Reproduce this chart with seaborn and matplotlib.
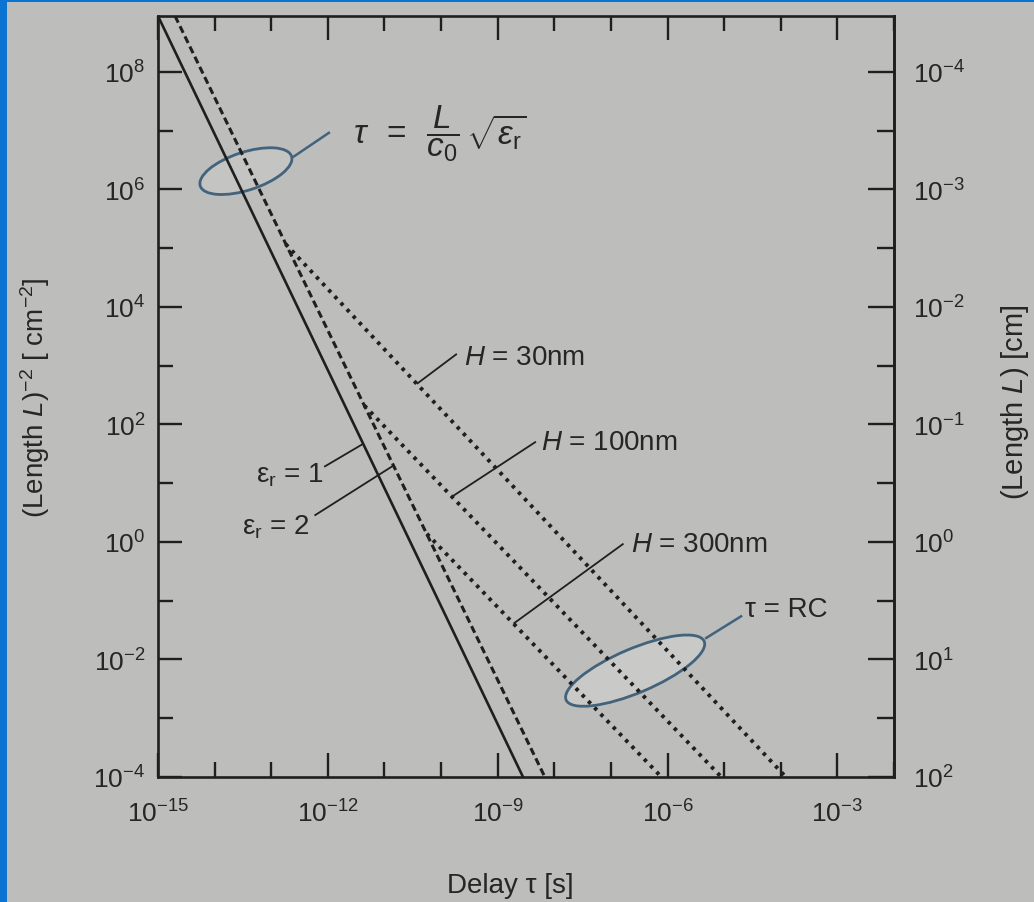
import numpy as np
import pandas as pd
import matplotlib
matplotlib.use("Agg")
import matplotlib.pyplot as plt
import matplotlib.ticker as mticker
import matplotlib.transforms as mtransforms
from matplotlib.patches import Ellipse, Rectangle
from matplotlib.lines import Line2D
import seaborn as sns

# ---------------- data ----------------
tau_er1 = [1.0e-15, 2.8e-9]
Linv_er1 = [8.9e8, 1.0e-4]
tau_er2 = [2.0e-15, 6.8e-9]
Linv_er2 = [8.9e8, 1.0e-4]
tau_h30 = [1.8e-13, 1.23e-4]
Linv_h30 = [1.17e5, 1.0e-4]
tau_h100 = [4.4e-12, 8.9e-6]
Linv_h100 = [2.1e2, 1.0e-4]
tau_h300 = [5.6e-11, 7.8e-7]
Linv_h300 = [1.38, 1.0e-4]

x_major = [1e-15, 1e-12, 1e-9, 1e-6, 1e-3]
x_minor = [10.0 ** k for k in range(-14, -1) if k % 3 != 0]
y_major = [10.0 ** k for k in (-4, -2, 0, 2, 4, 6, 8)]
y_minor = [10.0 ** k for k in (-3, -1, 1, 3, 5, 7)]
L_major = [10.0 ** k for k in (-4, -3, -2, -1, 0, 1, 2)]
L_minor = [10.0 ** (k + 0.5) for k in (-4, -3, -2, -1, 0, 1)]

label_er1 = r"$\mathregular{\varepsilon_r}$ = 1"
label_er2 = r"$\mathregular{\varepsilon_r}$ = 2"
label_h30 = r"$H$ = 30nm"
label_h100 = r"$H$ = 100nm"
label_h300 = r"$H$ = 300nm"
label_rc = "τ = RC"
label_tl = r"$\tau\;\;=\;\;\dfrac{L}{c_0}\,\sqrt{\varepsilon_{\mathrm{r}}}$"

# ---------------- style ----------------
BG = "#bdbdbb"
INK = "#1f1f1f"
TXT = "#262626"
BLUE = "#42637b"
ANN = 20
TICK = 19

sns.set_theme(style="ticks")
plt.rcParams["font.family"] = ["Liberation Sans", "DejaVu Sans"]
plt.rcParams["mathtext.fontset"] = "custom"
plt.rcParams["mathtext.rm"] = "Liberation Sans"
plt.rcParams["mathtext.it"] = "Liberation Sans:italic"
plt.rcParams["mathtext.bf"] = "Liberation Sans:bold"
plt.rcParams["text.color"] = TXT

fig = plt.figure(figsize=(10.34, 9.03), dpi=100, facecolor=BG)
ax = fig.add_axes([158 / 1034, (903 - 778) / 903, (894 - 158) / 1034, (778 - 17) / 903])
ax.set_facecolor(BG)
ax.set_xscale("log")
ax.set_yscale("log")

series = [
    ("er1", tau_er1, Linv_er1, dict(linewidth=1.9, linestyle="-")),
    ("er2", tau_er2, Linv_er2, dict(linewidth=2.2, linestyle=(0, (2.4, 1.3)))),
    ("h30", tau_h30, Linv_h30, dict(linewidth=2.8, linestyle=(0, (0.9, 1.4)))),
    ("h100", tau_h100, Linv_h100, dict(linewidth=2.8, linestyle=(0, (0.9, 1.4)))),
    ("h300", tau_h300, Linv_h300, dict(linewidth=2.8, linestyle=(0, (0.9, 1.4)))),
]
df = pd.concat([pd.DataFrame({"tau": t, "Linv": v, "series": n}) for n, t, v, _ in series],
               ignore_index=True)
for n, _, _, kw in series:
    sns.lineplot(data=df[df["series"] == n], x="tau", y="Linv", ax=ax, color=INK,
                 zorder=2, **kw)

ax.set_xlim(1e-15, 1e-2)
ax.set_ylim(1e-4, 10 ** 8.95)
ax.set_xlabel("")
ax.set_ylabel("")

for s in ax.spines.values():
    s.set_visible(True)
    s.set_linewidth(1.9)
    s.set_color(INK)


def sci(v, pos=None):
    return r"$\mathregular{10^{%d}}$" % int(round(np.log10(v)))


ax.xaxis.set_major_locator(mticker.FixedLocator(x_major))
ax.xaxis.set_minor_locator(mticker.FixedLocator(x_minor))
ax.yaxis.set_major_locator(mticker.FixedLocator(y_major))
ax.yaxis.set_minor_locator(mticker.FixedLocator(y_minor))
ax.xaxis.set_major_formatter(mticker.FuncFormatter(sci))
ax.yaxis.set_major_formatter(mticker.FuncFormatter(sci))
ax.xaxis.set_minor_formatter(mticker.NullFormatter())
ax.yaxis.set_minor_formatter(mticker.NullFormatter())

ax.tick_params(axis="both", which="both", direction="in", top=True, right=False,
               width=1.7, color=INK, labelcolor=TXT, labelsize=TICK)
ax.tick_params(which="major", length=17)
ax.tick_params(which="minor", length=11)
ax.tick_params(axis="x", which="major", pad=16)
ax.tick_params(axis="y", which="major", pad=9)


def fwd(y):
    y = np.asarray(y, dtype=float)
    with np.errstate(divide="ignore", invalid="ignore"):
        return np.power(y, -0.5)


def inv(L):
    L = np.asarray(L, dtype=float)
    with np.errstate(divide="ignore", invalid="ignore"):
        return np.power(L, -2.0)


sec = ax.secondary_yaxis("right", functions=(fwd, inv))
sec.set_yticks(L_major)
sec.yaxis.set_major_formatter(mticker.FuncFormatter(sci))
sec.yaxis.set_minor_locator(mticker.FixedLocator(L_minor))
sec.yaxis.set_minor_formatter(mticker.NullFormatter())
sec.tick_params(which="both", direction="in", width=1.7, color=INK, labelcolor=TXT,
                labelsize=TICK)
sec.tick_params(which="major", length=19, pad=14)
sec.tick_params(which="minor", length=12)
sec.spines["right"].set_linewidth(1.9)
sec.spines["right"].set_color(INK)


# ---------------- annotations ----------------
def on_line(tau, Linv, ylog):
    lx, ly = np.log10(tau), np.log10(Linv)
    xlog = np.interp(ylog, ly[::-1], lx[::-1])
    return 10 ** xlog, 10 ** ylog


def anchored(x, y):
    return fig.dpi_scale_trans + mtransforms.ScaledTranslation(x, y, ax.transData)


def leader(T, p0, p1, color=INK, lw=1.3):
    ln = Line2D([p0[0] / 100, p1[0] / 100], [p0[1] / 100, p1[1] / 100], transform=T,
                color=color, lw=lw, zorder=3, solid_capstyle="butt")
    ax.add_artist(ln)


def label(T, p, s, ha="left", size=ANN):
    ax.text(p[0] / 100, p[1] / 100, s, transform=T, ha=ha, va="center",
            fontsize=size, color=TXT, zorder=4)


# top-left ellipse (tau = L/c0 sqrt(er))
xa, ya = on_line(tau_er1, Linv_er1, 6.31)
xb, _ = on_line(tau_er2, Linv_er2, 6.31)
T = anchored(10 ** (np.log10(xa) + 0.75 * (np.log10(xb) - np.log10(xa))), ya)
ax.add_artist(Ellipse((0, 0), 0.96, 0.38, angle=18, transform=T, facecolor="#c4c4c2",
                      edgecolor=BLUE, lw=2.0, zorder=1.5))
leader(T, (47, 14), (84, 39), color=BLUE, lw=1.8)
label(T, (107, 39), label_tl, size=24)

# RC ellipse
xa, ya = on_line(tau_h100, Linv_h100, -2.19)
xb, _ = on_line(tau_h30, Linv_h30, -2.19)
T = anchored(10 ** (np.log10(xa) + 0.24 * (np.log10(xb) - np.log10(xa))), ya)
ax.add_artist(Ellipse((0, 0), 1.50, 0.44, angle=23, transform=T, facecolor="#c9c9c7",
                      edgecolor=BLUE, lw=2.0, zorder=1.5))
leader(T, (70, 32), (107, 55), color=BLUE, lw=1.8)
label(T, (110, 62), label_rc)

# er = 1
T = anchored(*on_line(tau_er1, Linv_er1, 1.67))
leader(T, (-39, -23), (0, 0))
label(T, (-40, -30), label_er1, ha="right")

# er = 2
T = anchored(*on_line(tau_er2, Linv_er2, 1.30))
leader(T, (-79, -50), (0, 0))
label(T, (-84, -61), label_er2, ha="right")

# H = 30nm
T = anchored(*on_line(tau_h30, Linv_h30, 2.69))
leader(T, (0, 0), (40, 30))
label(T, (47, 27), label_h30)

# H = 100nm
T = anchored(*on_line(tau_h100, Linv_h100, 0.77))
leader(T, (0, 0), (84, 55))
label(T, (89, 55), label_h100)

# H = 300nm
T = anchored(*on_line(tau_h300, Linv_h300, -1.39))
leader(T, (0, 0), (110, 80))
label(T, (117, 80), label_h300)

# ---------------- axis titles ----------------
fig.text(35 / 1034, 1 - 398 / 903, r"(Length $L$)$^{\mathregular{-2}}$ [ cm$^{\mathregular{-2}}$]",
         rotation=90, ha="center", va="center", fontsize=20, color=TXT)
fig.text(1015 / 1034, 1 - 402 / 903, r"(Length $L$) [cm]", rotation=90, ha="center",
         va="center", fontsize=21, color=TXT)
fig.text(510 / 1034, 1 - 886 / 903, "Delay τ [s]", ha="center", va="center", fontsize=20,
         color=TXT)

# blue frame of the photo
fig.add_artist(Rectangle((0, 0), 7 / 1034, 1, transform=fig.transFigure, color="#0b74d2",
                         zorder=10, lw=0))
fig.add_artist(Rectangle((0, 1 - 3 / 903), 1, 3 / 903, transform=fig.transFigure,
                         color="#0b74d2", zorder=10, lw=0))

fig.savefig("out.png", dpi=100, facecolor=BG)
